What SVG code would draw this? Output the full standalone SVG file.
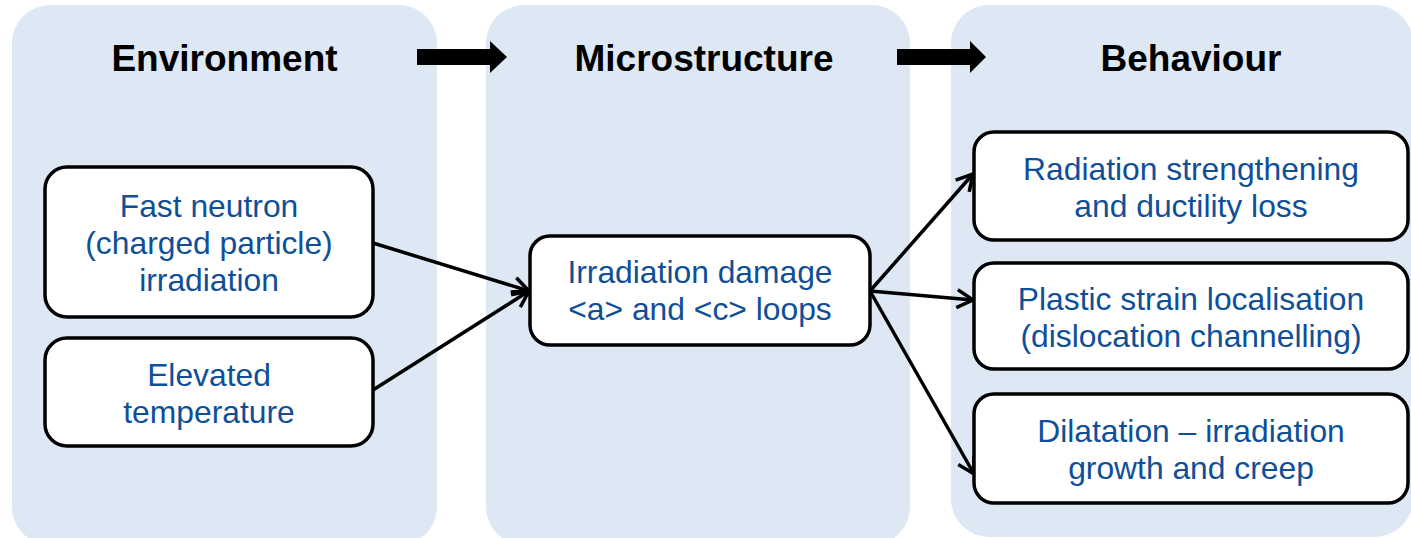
<svg xmlns="http://www.w3.org/2000/svg" width="1411" height="538" viewBox="0 0 1411 538">
<style>
.panel{fill:#dde8f4;stroke:none}
.title{font-family:"Liberation Sans",Arial,sans-serif;font-weight:bold;font-size:37px;fill:#000;text-anchor:middle}
.box{fill:#fff;stroke:#000;stroke-width:3.5}
.lbl{font-family:"Liberation Sans",Arial,sans-serif;font-size:31.8px;fill:#0f4f98;text-anchor:middle}
.conn{stroke:#000;stroke-width:3.5;fill:none;marker-end:url(#chev)}
.big{fill:#000}
</style>
<defs>
<marker id="chev" markerUnits="userSpaceOnUse" markerWidth="22" markerHeight="22" viewBox="0 0 22 22" refX="19" refY="11" orient="auto">
<path d="M3,2 L19,11 L3,20" fill="none" stroke="#000" stroke-width="3.5" stroke-linejoin="miter"/>
</marker>
</defs>
<g id="panels">
<rect id="panel-environment" class="panel" x="12" y="5" width="425" height="540" rx="38"/>
<rect id="panel-microstructure" class="panel" x="486" y="5" width="424" height="540" rx="38"/>
<rect id="panel-behaviour" class="panel" x="951" y="5" width="462" height="532" rx="38"/>
</g>
<g id="titles">
<text class="title" x="224.5" y="71">Environment</text>
<text class="title" x="704" y="71">Microstructure</text>
<text class="title" x="1191" y="71">Behaviour</text>
</g>
<g id="stage-arrows">
<path class="big" d="M417,49 H490 V41 L507,57 L490,73 V65 H417 Z"/>
<path class="big" d="M897,49 H970 V41 L986,57 L970,73 V65 H897 Z"/>
</g>
<g id="connectors">
<line class="conn" x1="373" y1="243" x2="529" y2="291"/>
<line class="conn" x1="373" y1="390" x2="529" y2="291"/>
<line class="conn" x1="870" y1="291" x2="973" y2="174"/>
<line class="conn" x1="870" y1="291" x2="973" y2="300"/>
<line class="conn" x1="870" y1="291" x2="974" y2="474"/>
</g>
<g id="node-fast-neutron">
<rect class="box" x="45" y="167" width="328" height="150" rx="22"/>
<text class="lbl" x="209" y="217">Fast neutron</text>
<text class="lbl" x="209" y="254">(charged particle)</text>
<text class="lbl" x="209" y="291">irradiation</text>
</g>
<g id="node-elevated-temperature">
<rect class="box" x="45" y="338" width="328" height="108" rx="22"/>
<text class="lbl" x="209" y="386">Elevated</text>
<text class="lbl" x="209" y="423">temperature</text>
</g>
<g id="node-irradiation-damage">
<rect class="box" x="530" y="236" width="340" height="109" rx="20"/>
<text class="lbl" x="700" y="283">Irradiation damage</text>
<text class="lbl" x="700" y="320">&lt;a&gt; and &lt;c&gt; loops</text>
</g>
<g id="node-radiation-strengthening">
<rect class="box" x="974" y="132" width="434" height="108" rx="20"/>
<text class="lbl" x="1191" y="180">Radiation strengthening</text>
<text class="lbl" x="1191" y="217">and ductility loss</text>
</g>
<g id="node-plastic-strain">
<rect class="box" x="974" y="263" width="434" height="106" rx="20"/>
<text class="lbl" x="1191" y="310">Plastic strain localisation</text>
<text class="lbl" x="1191" y="347">(dislocation channelling)</text>
</g>
<g id="node-dilatation">
<rect class="box" x="974" y="394" width="434" height="109" rx="20"/>
<text class="lbl" x="1191" y="442">Dilatation – irradiation</text>
<text class="lbl" x="1191" y="479">growth and creep</text>
</g>
</svg>
